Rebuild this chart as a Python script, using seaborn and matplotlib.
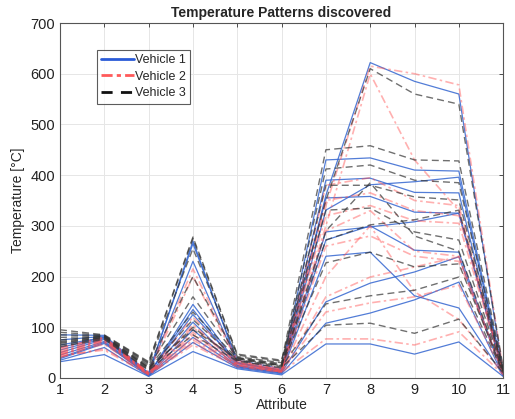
import numpy as np
import pandas as pd
import matplotlib
matplotlib.use("Agg")
import matplotlib.pyplot as plt
import seaborn as sns
from matplotlib.lines import Line2D

attributes = list(range(1, 12))

vehicle1 = [
    [75, 82, 8, 270, 30, 15, 360, 622, 585, 560, 10],
    [85, 84, 10, 265, 35, 18, 430, 434, 410, 408, 12],
    [60, 80, 8, 230, 30, 15, 390, 394, 366, 365, 8],
    [55, 78, 6, 145, 28, 14, 355, 358, 327, 325, 8],
    [50, 76, 7, 135, 25, 12, 331, 381, 387, 396, 6],
    [65, 80, 9, 125, 30, 15, 288, 298, 308, 325, 10],
    [45, 72, 6, 110, 24, 12, 272, 300, 252, 248, 6],
    [40, 70, 5, 95, 22, 10, 240, 248, 162, 138, 5],
    [38, 68, 5, 80, 22, 10, 150, 187, 209, 239, 5],
    [35, 60, 4, 70, 20, 8, 108, 128, 154, 189, 4],
    [32, 46, 3, 52, 18, 6, 67, 67, 47, 71, 3],
]
vehicle2 = [
    [60, 80, 12, 215, 35, 18, 340, 615, 600, 578, 15],
    [55, 78, 10, 200, 32, 16, 300, 600, 430, 330, 12],
    [58, 80, 10, 120, 33, 16, 380, 395, 350, 340, 14],
    [50, 76, 9, 105, 30, 15, 350, 365, 330, 320, 12],
    [45, 74, 8, 100, 30, 14, 320, 340, 310, 305, 12],
    [52, 75, 9, 90, 28, 14, 290, 330, 250, 240, 10],
    [48, 72, 8, 85, 27, 13, 260, 280, 240, 230, 10],
    [40, 70, 7, 75, 25, 12, 160, 199, 219, 239, 8],
    [42, 58, 7, 70, 24, 12, 130, 148, 160, 183, 8],
    [44, 55, 6, 65, 22, 11, 77, 77, 65, 91, 6],
    [47, 66, 8, 80, 26, 12, 200, 300, 170, 115, 9],
]
vehicle3 = [
    [95, 85, 32, 278, 47, 35, 350, 610, 560, 540, 20],
    [90, 84, 30, 275, 45, 33, 450, 458, 430, 428, 18],
    [85, 83, 28, 255, 42, 30, 412, 420, 390, 385, 16],
    [80, 82, 25, 200, 40, 28, 380, 380, 357, 351, 15],
    [75, 82, 22, 160, 40, 26, 331, 335, 288, 272, 14],
    [70, 80, 20, 130, 38, 25, 272, 302, 312, 331, 14],
    [68, 80, 18, 115, 36, 24, 227, 248, 219, 225, 12],
    [65, 78, 16, 100, 35, 22, 146, 162, 173, 199, 10],
    [62, 76, 15, 85, 33, 20, 104, 108, 88, 116, 10],
    [72, 82, 20, 95, 38, 24, 290, 385, 280, 250, 12],
]

vehicle_names = ["Vehicle 1", "Vehicle 2", "Vehicle 3"]
colors = {"Vehicle 1": "#3466d0", "Vehicle 2": "#ff5050", "Vehicle 3": "#333333"}
alphas = {"Vehicle 1": 0.85, "Vehicle 2": 0.45, "Vehicle 3": 0.7}
widths = {"Vehicle 1": 0.9, "Vehicle 2": 1.2, "Vehicle 3": 1.0}
dashes = {"Vehicle 1": "", "Vehicle 2": (5, 2, 1.5, 2), "Vehicle 3": (5, 3)}

rows = []
for name, data in zip(vehicle_names, [vehicle1, vehicle2, vehicle3]):
    for i, line in enumerate(data):
        for a, v in zip(attributes, line):
            rows.append({"vehicle": name, "unit": f"{name}-{i}", "attr": a, "temp": v})
df = pd.DataFrame(rows)

sns.set_theme(style="whitegrid")
plt.rcParams['font.family'] = ['Liberation Sans', 'DejaVu Sans']

fig = plt.figure(figsize=(5.15, 4.19), dpi=100)
ax = fig.add_axes([0.1165, 0.098, 0.8605, 0.847])

for name in vehicle_names:
    sub = df[df["vehicle"] == name]
    sns.lineplot(data=sub, x="attr", y="temp", units="unit", estimator=None,
                 color=colors[name], alpha=alphas[name], linewidth=widths[name],
                 dashes=False, ax=ax, legend=False)
    for ln in ax.get_lines()[-len(sub["unit"].unique()):]:
        if dashes[name]:
            ln.set_dashes(dashes[name])

ax.set_xlim(1, 11)
ax.set_ylim(0, 700)
ax.set_xticks(attributes)
ax.set_yticks(range(0, 701, 100))
ax.set_facecolor("white")
ax.grid(True, color="#e6e6e6", linewidth=0.7)
for s in ax.spines.values():
    s.set_color("#555555")
    s.set_linewidth(0.8)
    s.set_visible(True)
ax.tick_params(direction="in", top=True, right=True, length=3, labelsize=10.5,
               colors="#333333", labelcolor="#222222", width=0.6)
ax.set_title("Temperature Patterns discovered", fontsize=10, fontweight="bold", pad=4)
ax.set_xlabel("Attribute", fontsize=10, labelpad=1)
ax.set_ylabel("Temperature [°C]", fontsize=10, labelpad=4)

handles = [
    Line2D([], [], color="#2a5bd7", linewidth=2, linestyle="-"),
    Line2D([], [], color="#ff5a5a", linewidth=2, dashes=(4, 1.5, 1.5, 1.5)),
    Line2D([], [], color="#111111", linewidth=2, dashes=(4, 3)),
]
leg = ax.legend(handles, vehicle_names, loc="upper left", bbox_to_anchor=(0.083, 0.924),
                borderaxespad=0, fontsize=9, fancybox=False, frameon=True,
                handlelength=2.6, handletextpad=0.1, borderpad=0.35, labelspacing=0.35)
leg.get_frame().set_edgecolor("#333333")
leg.get_frame().set_linewidth(0.8)

fig.savefig("out.png", dpi=100)
